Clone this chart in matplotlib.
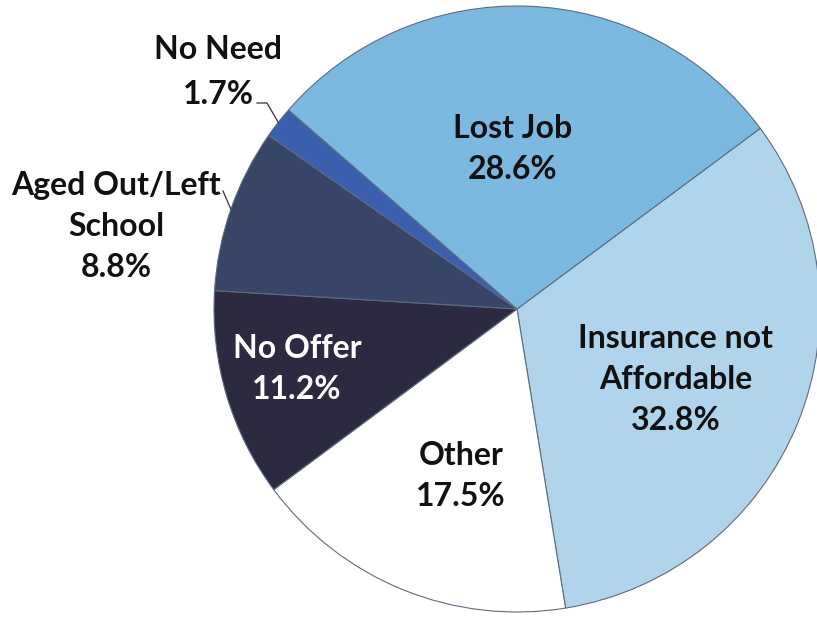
import matplotlib.pyplot as plt
import numpy as np

# Reasons for losing coverage (percent)
labels = ['Insurance not\nAffordable', 'Other', 'No Offer',
          'Aged Out/Left\nSchool', 'No Need', 'Lost Job']
shares = [32.8, 17.5, 11.2, 8.8, 1.7, 28.6]
colors = ['#afd4ec', '#ffffff', '#2b2a40', '#394566', '#3a5fae', '#7bb9e0']
text_colors = ['#111111', '#111111', '#ffffff', '#111111', '#111111', '#111111']

plt.rcParams['font.family'] = ['Lato', 'DejaVu Sans']

W, H = 817, 618
CX, CY, R = 517, 309, 303      # pie centre and radius in pixels


def px(x, y):
    """pixel position -> data coordinates (pie radius = 1)"""
    return (x - CX) / R, (CY - y) / R


def main():
    fig = plt.figure(figsize=(W / 100, H / 100), dpi=100)
    ax = fig.add_axes([0, 0, 1, 1])

    wedges, _ = ax.pie(shares, colors=colors, startangle=36.6,
                       counterclock=False, radius=1,
                       wedgeprops=dict(edgecolor='#5d6b80', linewidth=0.8))

    ax.set_xlim(px(0, 0)[0], px(W, 0)[0])
    ax.set_ylim(px(0, H)[1], px(0, 0)[1])
    ax.set_aspect('equal')
    ax.axis('off')

    # label positions (pixels)
    spots = [(676, 380), (461, 476), (297, 369), (116, 227), (218, 72), (513, 149)]
    for i, (lab, val, (x, y), tc) in enumerate(zip(labels, shares, spots, text_colors)):
        ax.text(*px(x, y), f'{lab}\n{val:.1f}%', ha='center', va='center',
                fontsize=23, fontweight='bold', color=tc,
                linespacing=1.65 if i == 4 else 1.5)

    # leader lines for the two narrow slices
    for i, (start, knee) in {4: ((257, 103), (267, 103)),
                             3: ((223, 191), (223, 191))}.items():
        w = wedges[i]
        mid = np.deg2rad((w.theta1 + w.theta2) / 2)
        ex, ey = np.cos(mid), np.sin(mid)
        xs = [px(*start)[0], px(*knee)[0], ex]
        ys = [px(*start)[1], px(*knee)[1], ey]
        ax.plot(xs, ys, color='#333333', lw=0.9)

    fig.savefig('out.png', dpi=100)


if __name__ == "__main__":
    main()
